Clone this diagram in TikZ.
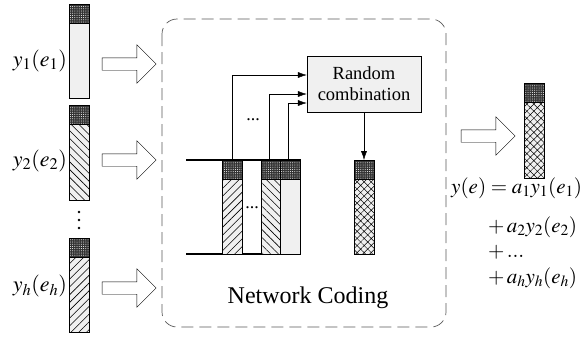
\documentclass[tikz,border=0pt]{standalone}
\usepackage{mathptmx}
\usepackage{fontspec}
\setmainfont{Liberation Serif}
\usetikzlibrary{arrows.meta}
\usetikzlibrary{patterns.meta}
\usetikzlibrary{shapes.arrows}

\tikzset{
  hdr/.style={fill=black!80, postaction={pattern={Dots[distance=2.2pt,radius=0.5pt]}, pattern color=white}},
  plainbody/.style={fill=black!6},
  nebody/.style={fill=black!6, postaction={pattern={Lines[angle=45,distance=5.5pt,line width=0.6pt]}}},
  nwbody/.style={fill=black!6, postaction={pattern={Lines[angle=-45,distance=5.5pt,line width=0.6pt]}}},
  xbody/.style={fill=black!6, postaction={pattern={Hatch[angle=45,distance=5pt,line width=0.5pt]}}},
  bigarrow/.style={single arrow, draw, thin, inner xsep=0pt, inner ysep=6pt, text height=0pt, text depth=0pt,
    single arrow head extend=13pt, single arrow tip angle=90, minimum height=54pt},
  lbl/.style={font=\fontsize{22}{26}\selectfont, inner sep=0pt},
  eq/.style={font=\fontsize{21}{25}\selectfont, inner sep=0pt, anchor=west}
}

\newcommand{\pkt}[4]{%
  \fill[#4] (#1,#2+19) rectangle (#1+20,#3);
  \fill[hdr] (#1,#2) rectangle (#1+20,#2+19);
  \draw (#1,#2+19) -- (#1+20,#2+19);
  \draw (#1,#2) rectangle (#1+20,#3);
}

\begin{document}
\begin{tikzpicture}[x=1pt,y=-1pt,>={Latex[length=9pt,width=6pt]}]
        \useasboundingbox (0,0) rectangle (585,341);

        \draw[black!65, line width=0.7pt, dash pattern=on 12pt off 6pt, rounded corners=15pt] (162,19) rectangle (446,327);

        \pkt{69}{4}{98}{plainbody}
        \pkt{69}{105}{200}{nwbody}
        \pkt{69}{238}{332}{nebody}
        \foreach \yy in {212,220,228} \fill (79,\yy) circle (1.4pt);

        \node[lbl, anchor=east] (l1) at (67,61) {$y_1(e_1)$};
        \node[lbl, anchor=east] (l2) at (67,161) {$y_2(e_2)$};
        \node[lbl, anchor=east] (lh) at (67,286) {$y_h(e_h)$};

        \node[bigarrow] (a1) at (126,64) {};
        \node[bigarrow] (a2) at (126,160) {};
        \node[bigarrow] (ah) at (126,288) {};

        \node[draw, fill=black!6, minimum width=114pt, minimum height=56pt, align=center,
              font=\fontsize{18.5}{21}\selectfont] (rc) at (364,84) {Random\\combination};

        \draw[line width=1.8pt] (186,160) -- (300,160) -- (300,254) -- (186,254);
        \pkt{222}{160}{254}{nebody}
        \pkt{261}{160}{254}{nwbody}
        \pkt{280}{160}{254}{plainbody}
        \pkt{354}{160}{254}{xbody}

        \coordinate (bA) at (232,160);
        \coordinate (bB) at (269,160);
        \coordinate (bC) at (288,160);
        \coordinate (out) at (364,160);

        \draw[->] (bA) |- ([yshift=9pt]rc.west);
        \draw[->] (bB) |- ([yshift=-10pt]rc.west);
        \draw[->] (bC) |- ([yshift=-19pt]rc.west);
        \draw[->] (rc.south) -- (out);

        \node[font=\fontsize{18}{20}\selectfont] (d1) at (253,120) {...};
        \node[font=\fontsize{18}{20}\selectfont] (d2) at (252,208) {...};

        \node[font=\fontsize{24}{28}\selectfont] (nc) at (308,298) {Network Coding};

        \node[bigarrow] (ao) at (485,136) {};
        \pkt{524}{83}{178}{xbody}

        \node[eq] (e1) at (451,188) {$y(e)=a_1y_1(e_1)$};
        \node[eq] (e2) at (488,227) {$+\,a_2y_2(e_2)$};
        \node[eq] (e3) at (488,252) {$+\,...$};
        \node[eq] (e4) at (488,278) {$+\,a_hy_h(e_h)$};
    \end{tikzpicture}
\end{document}
